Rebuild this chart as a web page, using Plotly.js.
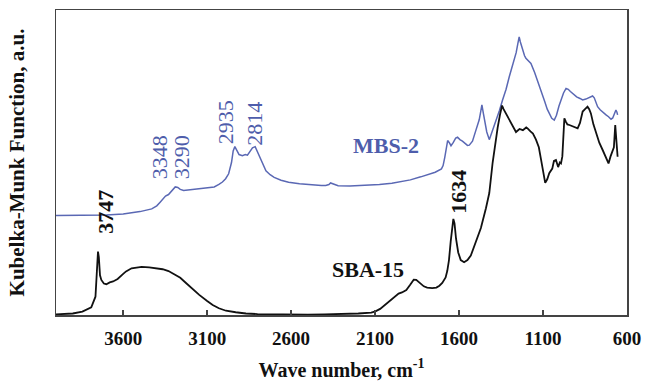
<!DOCTYPE html>
<html>
<head>
<meta charset="utf-8">
<script src="https://cdn.plot.ly/plotly-3.0.1.min.js"></script>
<style>html,body{margin:0;padding:0;background:#fff;}#chart{width:645px;height:385px;}</style>
</head>
<body>
<div id="chart"></div>
<script>
// SBA-15 (black) : wavenumber (cm-1) and Kubelka-Munk (a.u.)
const sbaWn = [4000,3900,3843,3790,3765,3758,3750,3745,3738,3730,3715,3700,3680,3660,3633,3600,3583,3550,3524,3490,3445,3400,3365,3330,3306,3260,3226,3190,3147,3100,3067,3030,2988,2930,2869,2800,2700,2600,2500,2400,2300,2200,2123,2098,2070,2049,2020,2000,1975,1960,1940,1914,1890,1870,1855,1830,1810,1790,1760,1735,1717,1700,1680,1670,1660,1650,1640,1634,1627,1618,1605,1590,1570,1550,1530,1499,1470,1440,1420,1400,1385,1370,1355,1344,1335,1320,1311,1295,1280,1261,1240,1220,1200,1192,1175,1160,1142,1125,1112,1100,1087,1075,1063,1045,1035,1023,1010,1000,993,985,978,973,965,955,943,930,915,894,880,864,850,835,825,815,800,785,765,745,728,710,698,686,678,670,663,656];
const sbaKM = [0.2,0.5,1.1,2.5,6,14,20.8,19,13,11.5,10.3,10.1,10.7,11,11.8,13.5,14.3,15.3,15.6,15.8,15.6,15.3,15,14.4,13.7,12.2,10.5,8.7,6.6,4.6,3.3,2.2,1.4,0.9,0.5,0.3,0.2,0.1,0.1,0.2,0.3,0.5,0.8,1.2,2,3,4.3,5.3,6.5,7,7.4,8.2,10,11.6,11.5,10.3,9.4,9,8.8,9,9.6,10.5,12.3,14.5,18,24,30,31.5,30,25,20.5,18,17.3,18,19.5,24,28.5,35,40,50,56,61.5,66,68.7,67.5,66,65,63.5,62,60,61,60.6,61.5,61.2,60.2,59.5,57.5,55,51,46.5,43.3,44.5,46.5,48,50.5,50.8,48.5,50,49.7,52,58,64.5,63.5,62.5,62.3,62,61.5,61.2,63,66.7,67.5,68.3,67.5,66.1,62.5,59.6,56.5,54.1,52,49.7,52,53.5,55,62.3,56,51.9];

// MBS-2 (blue)
const mbsWn = [4000,3800,3700,3600,3500,3430,3400,3380,3360,3348,3330,3316,3300,3290,3275,3260,3240,3205,3160,3100,3058,3030,3009,2990,2972,2955,2945,2935,2925,2910,2890,2873,2860,2849,2830,2814,2800,2787,2770,2750,2725,2701,2660,2615,2550,2492,2420,2394,2375,2365,2355,2345,2320,2250,2197,2130,2074,2000,1951,1890,1828,1780,1742,1705,1695,1685,1675,1668,1658,1648,1635,1620,1609,1595,1580,1565,1550,1539,1520,1499,1480,1470,1464,1455,1445,1435,1420,1410,1395,1380,1360,1341,1320,1301,1280,1260,1250,1242,1235,1220,1210,1202,1190,1172,1150,1130,1112,1090,1075,1063,1048,1033,1020,1005,993,978,963,950,937,924,900,880,864,845,830,815,805,795,785,775,760,740,725,710,695,685,675,666,660,656];
const mbsKM = [32.6,32.6,32.8,33.1,33.9,34.8,35.8,37,38.3,39,39.5,40.4,41.6,42,41.8,41.2,40.8,41,41.3,41.6,42,42.8,43.6,44.7,46.3,50,53.8,55.2,54,52.6,52.2,52.6,52.4,53.3,54.8,55.2,53.5,51.7,49.5,47.3,46,45.1,44.2,43.5,43,42.7,42.5,42.5,42.8,43.3,43.1,42.8,42.4,42.3,42.4,42.6,42.8,43.2,43.7,44.3,45.3,46.1,46.8,47.9,49,51.7,55,57.2,56.5,55.5,56.5,58,58.3,57.5,57,56.2,55.6,55.7,57,60.7,64,67,68.9,66,62.5,60,57.5,59,61.5,63.9,67,70.5,74,78.1,82,86,89,91.2,89.5,86.5,85,84.2,83.5,82.5,79.5,76.5,73.8,70,67.5,66.1,64.5,63.9,65.5,68.5,70.5,72.8,74.3,74,73.3,72.7,71.5,71,70.5,70.8,71.2,71.6,71.8,71.2,69.5,68.3,67.3,66.2,65.6,65,64.2,64.6,66,67.2,66.5,65.6];

const tickVals = [3600,3100,2600,2100,1600,1100,600];
const tickText = ['3600','3100','2600','2100','1600','1100','600'];

// peak labels
const blueLabels = ['3348','3290','2935','2814'];
const blueLabelWn = [3385,3254,2986,2819];
const blueLabelKM = [51.8,51.8,63.3,62.8];
const blackLabels = ['3747','1634'];
const blackLabelWn = [3702,1600];
const blackLabelKM = [33.9,40.4];

const serif = 'Liberation Serif, Times New Roman, serif';
const blue = '#4e5dab';

const traces = [
  {x: mbsWn, y: mbsKM, mode: 'lines', name: 'MBS-2', line: {color: '#5a68b4', width: 1.5}},
  {x: sbaWn, y: sbaKM, mode: 'lines', name: 'SBA-15', line: {color: '#111111', width: 1.8}}
];

const annotations = [];
blueLabels.forEach((t, i) => annotations.push({x: blueLabelWn[i], y: blueLabelKM[i], text: t, showarrow: false, textangle: -90,
  font: {family: serif, size: 22, color: blue}}));
blackLabels.forEach((t, i) => annotations.push({x: blackLabelWn[i], y: blackLabelKM[i], text: '<b>' + t + '</b>', showarrow: false, textangle: -90,
  font: {family: serif, size: 22, color: '#111'}}));
annotations.push({x: 2034, y: 55.7, text: '<b>MBS-2</b>', showarrow: false, font: {family: serif, size: 22, color: blue}});
annotations.push({x: 2140, y: 14.8, text: '<b>SBA-15</b>', showarrow: false, font: {family: serif, size: 22, color: '#111'}});

const layout = {
  width: 645, height: 385,
  margin: {l: 56, r: 18, t: 10, b: 70},
  paper_bgcolor: '#fff', plot_bgcolor: '#fff',
  showlegend: false,
  xaxis: {
    range: [4000, 600], tickvals: tickVals, ticktext: tickText,
    ticks: 'inside', ticklen: 5, tickwidth: 1.5, tickcolor: '#444',
    showline: true, mirror: true, linecolor: '#444', linewidth: 1.5,
    showgrid: false, zeroline: false, ticklabelstandoff: 6,
    tickfont: {family: serif, size: 19, color: '#111', weight: 'bold'},
    title: {text: '<b>Wave number, cm<sup>-1</sup></b>', font: {family: serif, size: 20, color: '#111'}, standoff: 14}
  },
  yaxis: {
    range: [0, 100], showticklabels: false, ticks: '',
    showline: true, mirror: true, linecolor: '#444', linewidth: 1.5,
    showgrid: false, zeroline: false,
    title: {text: '<b>Kubelka-Munk Function, a.u.</b>', font: {family: serif, size: 21, color: '#111'}, standoff: 24}
  },
  annotations: annotations
};

Plotly.newPlot('chart', traces, layout, {displayModeBar: false, staticPlot: true});
</script>
</body>
</html>
